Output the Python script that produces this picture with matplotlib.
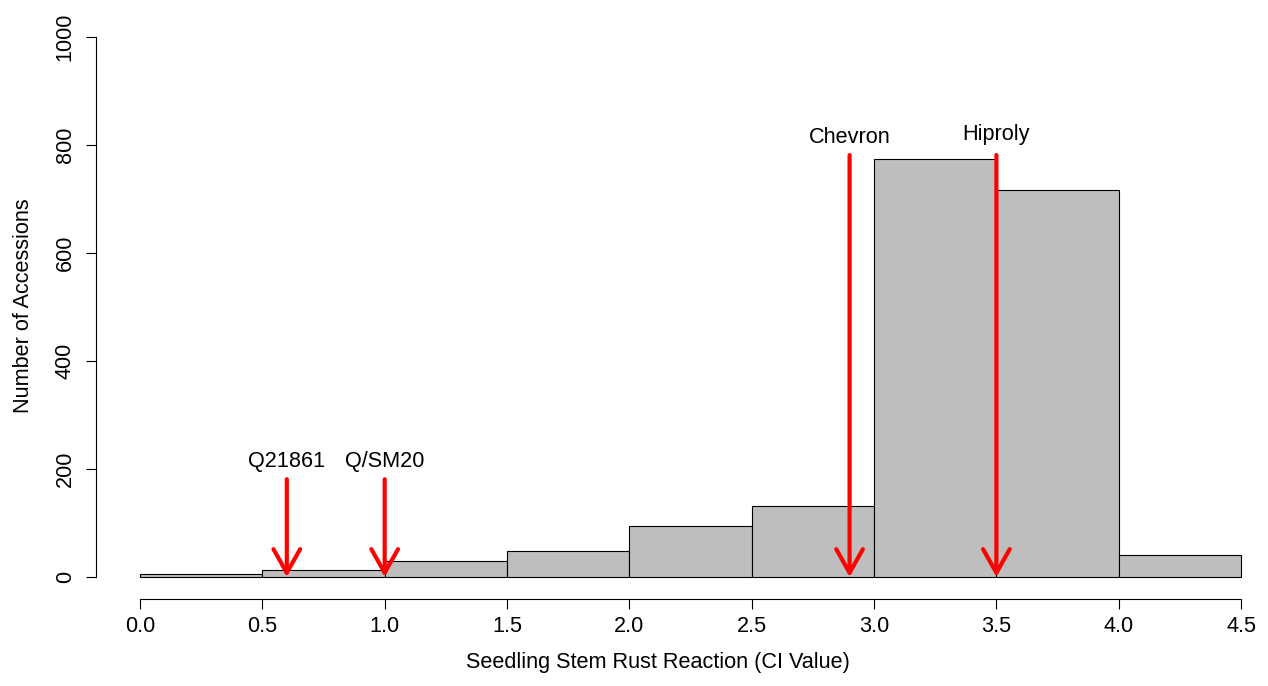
import matplotlib
matplotlib.use('Agg')
import matplotlib.pyplot as plt

plt.rcParams['font.family'] = ['Liberation Sans', 'DejaVu Sans']

# histogram of CI values (bin edges every 0.5)
bin_edges = [0.0, 0.5, 1.0, 1.5, 2.0, 2.5, 3.0, 3.5, 4.0, 4.5]
counts = [5, 13, 29, 48, 94, 131, 774, 717, 41]

# marked check lines
check_names = ['Q21861', 'Q/SM20', 'Chevron', 'Hiproly']
check_ci = [0.6, 1.0, 2.9, 3.5]
arrow_tops = [181, 181, 781, 781]
label_y = [204, 204, 803, 808]

x_ticks = [0.0, 0.5, 1.0, 1.5, 2.0, 2.5, 3.0, 3.5, 4.0, 4.5]
y_ticks = [0, 200, 400, 600, 800, 1000]

fig = plt.figure(figsize=(12.68, 6.86), dpi=100)
ax = fig.add_axes([0.0757, 0.1268, 0.9243, 0.8440])

widths = [b - a for a, b in zip(bin_edges[:-1], bin_edges[1:])]
ax.bar(bin_edges[:-1], counts, width=widths, align='edge',
       color='#BEBEBE', edgecolor='black', linewidth=0.8)

for name, x, top, ly in zip(check_names, check_ci, arrow_tops, label_y):
    ax.annotate('', xy=(x, 0), xytext=(x, top),
                arrowprops=dict(arrowstyle='->,head_length=0.85,head_width=0.48',
                                color='red', lw=3, mutation_scale=20,
                                shrinkA=0, shrinkB=0,
                                capstyle='round', joinstyle='round'))
    ax.text(x, ly, name, ha='center', va='baseline', fontsize=15.6)

ax.set_xlim(-0.1798, 4.610)
ax.set_ylim(-40.7, 1030.9)

for side in ['top', 'right']:
    ax.spines[side].set_visible(False)
ax.spines['left'].set_bounds(0, 1000)
ax.spines['bottom'].set_bounds(0, 4.5)
ax.spines['left'].set_linewidth(0.8)
ax.spines['bottom'].set_linewidth(0.8)

ax.set_xticks(x_ticks)
ax.set_xticklabels([f'{v:.1f}' for v in x_ticks])
ax.set_yticks(y_ticks)
ax.set_yticklabels([str(v) for v in y_ticks], rotation=90, va='center')
ax.tick_params(direction='out', length=7.5, width=0.8, labelsize=15.6, pad=5)
ax.tick_params(axis='y', pad=7)

ax.set_xlabel('Seedling Stem Rust Reaction (CI Value)', fontsize=15.6)
ax.xaxis.set_label_coords(0.4795, -0.1105)
ax.xaxis.label.set_va('center')
ax.set_ylabel('Number of Accessions', fontsize=15.6)
ax.yaxis.set_label_coords(-0.0615, 0.506)
ax.yaxis.label.set_va('center')

fig.savefig('out.png', dpi=100)
